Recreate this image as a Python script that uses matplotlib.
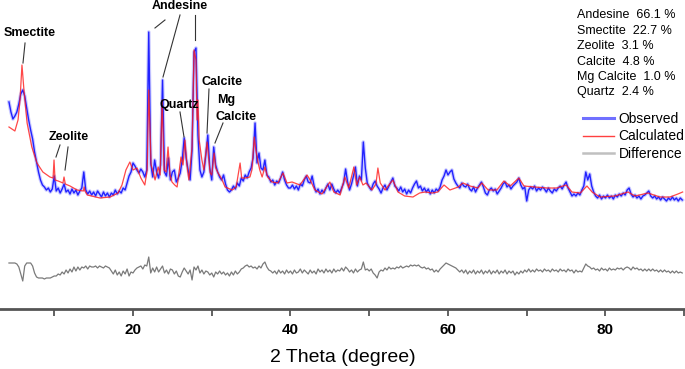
import numpy as np
import matplotlib
matplotlib.use("Agg")
import matplotlib.pyplot as plt
from matplotlib.lines import Line2D

plt.rcParams['font.family'] = ['Liberation Sans', 'DejaVu Sans']

# ---------------- data (intensity in arbitrary units) ----------------
STEP = 0.25
# observed scan, split in segments: (start 2theta, values every 0.25 deg)
obs_a_start = 4.25
obs_a = [208, 198, 191,
         194, 198, 206, 216,
         220, 214, 202, 190,
         180, 171, 158, 148,
         138, 130, 125, 123,
         120, 122, 118, 121,
         134, 119, 122, 117,
         121, 126, 118, 120,
         116, 121, 117, 120,
         115, 119, 122, 138,
         120, 116, 119, 115,
         118, 114, 119, 116,
         113, 118, 114, 117,
         113, 117, 115, 120,
         116, 119, 117, 122,
         120, 127, 134, 138]
obs_b_start = 20.0
obs_b = [147, 144, 140, 137,
         141, 138, 133, 140,
         278, 147, 133, 150,
         138, 132, 145, 230,
         138, 134, 152, 130,
         138, 140, 128, 132,
         137, 150, 172, 152,
         140, 130, 160, 258,
         262, 175, 140, 133,
         138, 155, 175, 142,
         130, 163, 145, 138,
         133, 130, 135, 126,
         120, 118, 120, 124,
         121, 127, 124, 132,
         129, 135, 132, 138,
         142, 152, 187, 147]
obs_c_start = 36.0
obs_c = [157, 142, 140, 150,
         135, 133, 128, 130,
         125, 129, 127, 132,
         138, 130, 125, 122,
         122, 125, 121, 124,
         120, 126, 124, 130,
         134, 128, 127, 134,
         124, 118, 121, 116,
         120, 117, 122, 126,
         120, 126, 121, 117,
         120, 117, 122, 127,
         141, 128, 120, 126,
         134, 143, 124, 134,
         130, 168, 142, 127,
         123, 120, 126, 129,
         124, 121, 117, 122]
obs_d_start = 52.0
obs_d = [125, 120, 124, 128,
         132, 124, 122, 119,
         123, 118, 121, 116,
         120, 117, 122, 126,
         129, 122, 124, 119,
         122, 118, 121, 116,
         120, 117, 121, 119,
         123, 130, 134, 140,
         135, 138, 140, 131,
         127, 124, 122, 127,
         124, 123, 126, 121,
         119, 123, 118, 122,
         125, 128, 123, 117,
         115, 120, 122, 119,
         121, 116, 119, 122,
         126, 128, 123, 125]
obs_e_start = 68.0
obs_e = [121, 124, 126, 128,
         132, 125, 121, 123,
         109, 120, 123, 121,
         124, 119, 122, 120,
         123, 121, 118, 122,
         119, 117, 121, 119,
         122, 124, 121, 125,
         128, 122, 118, 114,
         116, 114, 117, 115,
         120, 124, 138, 130,
         136, 124, 118, 114,
         112, 115, 111, 114,
         112, 115, 112, 114,
         111, 115, 113, 116,
         114, 117, 115, 120,
         122, 116, 113, 115,
         112, 114, 111, 114,
         115, 117, 119, 114,
         112, 114, 111, 113,
         110, 113, 111, 109,
         112, 110, 113, 110,
         112, 109, 112, 110]

# difference curve (observed - calculated), same step scan segments
diff_a = [5, 5, 5,
          5, 4, 1, -6,
          -13, 2, 5, 5,
          5, 2, -5, -9,
          -10, -10, -10, -11,
          -10, -10, -10, -9,
          -8, -8, -6, -7,
          -4, -6, -2, -5,
          -1, -4, 1, -3,
          1, -2, 1, 0,
          2, -1, 2, 1,
          1, 2, 0, 2,
          1, 0, 2, 1,
          0, -3, -6, -2,
          -7, -4, -8, -3,
          -6, -1, -8, -4]
diff_b = [-5, -2, 0, 1,
          2, -1, 3, 2,
          11, -5, 0, -4,
          1, -4, -1, 2,
          -5, -2, -6, -1,
          -2, -6, -3, -8,
          -9, -4, 0, -3,
          -6, -2, -12, 1,
          -2, 2, -5, -2,
          -6, -3, -4, -7,
          -5, -9, -4, -6,
          -3, -6, -4, -7,
          -5, -8, -4, -7,
          -3, -6, -4, -1,
          0, 2, 3, 1,
          2, 0, 1, -1]
diff_c = [2, 0, 4, 6,
          1, -2, -3, -5,
          -3, -6, -2, -5,
          -3, -6, -2, -5,
          -3, -6, -2, -5,
          -4, -1, -5, -2,
          -4, -6, -2, -5,
          -3, -6, -1, -4,
          -2, -5, -1, -4,
          -2, -5, -1, -4,
          -2, -3, 0, -3,
          1, -1, -4, -2,
          -5, -1, -4, -2,
          -1, 6, -2, -1,
          -3, -1, -5, -7,
          -10, -4, -2, -3]
diff_d = [0, -2, 1, -1,
          0, -1, 1, 0,
          2, 0, 1, 2,
          1, 3, 2, 3,
          2, 3, 1, 0,
          1, -1, 0, -2,
          -1, -4, -2, -4,
          -1, 1, 3, 5,
          4, 3, 2, 1,
          0, -2, -4, -2,
          -5, -2, -6, -3,
          -5, -2, -6, -3,
          -5, -2, -6, -3,
          -5, -2, -6, -3,
          -5, -2, -6, -3,
          -5, -2, -6, -3]
diff_e = [-5, -3, -7, -4,
          -6, -3, -5, -2,
          -4, -1, -4, -2,
          -4, -1, -3, -2,
          -4, -1, -3, -2,
          -4, -1, -3, -2,
          -4, -1, -3, -2,
          -4, -1, -3, -2,
          -5, -2, -4, -3,
          -4, 0, 4, 2,
          1, -1, 0, -2,
          -1, -3, 0, -2,
          -1, -3, 0, -2,
          -1, -2, 0, -1,
          0, -2, 0, 1,
          0, -2, 1, -1,
          0, -2, -1, -3,
          -1, -3, -1, -3,
          -1, -3, -2, -4,
          -2, -4, -2, -4,
          -3, -5, -3, -5,
          -3, -5, -4, -5]

# calculated pattern (Rietveld fit)
calc_two_theta = [4.25, 5.0, 5.4, 5.65, 5.9, 6.15, 6.55, 7.15, 7.8, 8.55, 9.45, 9.85, 9.97, 10.1,
                  10.5, 11.1, 11.24, 11.4, 12.0, 12.9, 13.7, 13.8, 13.9, 14.2, 15.8, 17.1, 18.1,
                  18.6, 19.1, 19.6, 20.0, 20.5, 21.0, 21.5, 21.8, 22.0, 22.3, 22.5, 22.8, 23.2,
                  23.45, 23.7, 23.95, 24.2, 24.45, 24.7, 24.95, 25.3, 25.6, 26.1, 26.35, 26.6,
                  26.85, 27.1, 27.35, 27.5, 27.75, 28.0, 28.13, 28.25, 28.4, 28.75, 29.0, 29.4,
                  29.8, 30.0, 30.3, 30.5, 30.8, 31.2, 31.7, 32.6, 33.1, 33.6, 33.8, 34.2, 34.85,
                  35.1, 35.4, 35.6, 35.9, 36.1, 36.4, 36.75, 37.1, 37.65, 38.4, 39.05, 39.55,
                  40.2, 41.2, 42.1, 42.5, 43.1, 44.0, 45.0, 45.5, 46.3, 46.9, 47.4, 48.05, 48.4,
                  48.8, 49.2, 49.6, 50.35, 50.85, 51.1, 51.4, 52.0, 53.0, 53.65, 54.5, 55.55,
                  56.4, 57.1, 58.0, 58.7, 59.5, 60.25, 61.3, 61.9, 62.8, 63.8, 64.3, 65.1, 66.2,
                  67.1, 67.9, 69.0, 69.65, 71.0, 72.6, 73.8, 75.0, 75.75, 76.8, 77.65, 78.3,
                  79.3, 81.2, 82.85, 83.75, 85.4, 86.9, 88.2, 89.2, 89.8]
calc_intensity = [183, 179, 190, 210, 245, 220, 187, 163, 147, 138, 133, 132, 150, 130,
                  129, 127, 133, 126, 124, 120, 119, 123, 119, 115, 112, 113, 117,
                  125, 140, 148, 140, 142, 132, 125, 140, 220, 145, 140, 130, 143,
                  135, 210, 140, 138, 163, 135, 128, 125, 123, 153, 145, 170,
                  145, 130, 150, 163, 260, 250, 190, 210, 170, 150, 140, 168,
                  137, 135, 157, 142, 137, 132, 123, 120, 123, 147, 132, 132, 133,
                  140, 173, 160, 147, 140, 133, 143, 133, 128, 127, 137, 127,
                  128, 125, 135, 130, 120, 116, 128, 118, 115, 133, 122, 143, 125,
                  133, 125, 127, 120, 126, 142, 127, 120, 130, 118, 114, 113,
                  117, 118, 117, 118, 125, 120, 123, 127, 124, 122, 127, 120, 120,
                  129, 124, 132, 124, 123, 122, 122, 125, 118, 117, 124, 118,
                  113, 114, 118, 114, 117, 113, 113, 116, 118]
assert len(calc_two_theta) == len(calc_intensity)

mineral_names = ["Andesine", "Smectite", "Zeolite", "Calcite", "Mg Calcite", "Quartz"]
mineral_pct = [66.1, 22.7, 3.1, 4.8, 1.0, 2.4]

DIFF_OFFSET = 42


def seg_x(start, vals):
    return start + STEP * np.arange(len(vals))


obs_segments = [(obs_a_start, obs_a), (obs_b_start, obs_b), (obs_c_start, obs_c),
                (obs_d_start, obs_d), (obs_e_start, obs_e)]
diff_values = [diff_a, diff_b, diff_c, diff_d, diff_e]

obs_x = np.concatenate([seg_x(s, v) for s, v in obs_segments])
obs_y = np.concatenate([np.asarray(v, float) for _, v in obs_segments])
diff_x = np.concatenate([seg_x(s, d) for (s, _), d in zip(obs_segments, diff_values)])
diff_y = np.concatenate([np.asarray(d, float) for d in diff_values])

# ---------------- figure ----------------
W, H = 685, 369
fig = plt.figure(figsize=(W / 100, H / 100), dpi=100)
ax_bottom_px = 309
ax = fig.add_axes([0, 1 - ax_bottom_px / H, 1, ax_bottom_px / H])
ax.set_xlim(3.11, 90.1)
ax.set_ylim(1, 310)

# observed: soft halo + core line
ax.plot(obs_x, obs_y, color='#6a6aff', lw=2.6, alpha=0.35, zorder=2)
ax.plot(obs_x, obs_y, color='#1010ff', lw=1.0, alpha=0.9, zorder=2)
ax.plot(calc_two_theta, calc_intensity, color='#ff1a1a', lw=0.9, alpha=0.8, zorder=3)
ax.plot(diff_x, DIFF_OFFSET + diff_y, color='#7a7a7a', lw=0.9, zorder=2)

for s in ['top', 'left', 'right']:
    ax.spines[s].set_visible(False)
ax.spines['bottom'].set_color('#555555')
ax.spines['bottom'].set_linewidth(2)
ax.set_yticks([])
ax.set_xticks([20, 40, 60, 80])
ax.set_xticks([10, 30, 50, 70, 90], minor=True)
ax.tick_params(axis='x', which='both', direction='out', length=5, width=1.3,
               color='#555555', pad=5)
for lab in ax.get_xticklabels():
    lab.set_fontweight('bold')
    lab.set_fontsize(11)
fig.text(343 / W, 1 - 358 / H, '2 Theta (degree)', fontsize=14, ha='center', va='center')

# ---------------- peak labels ----------------
lab_kw = dict(fontsize=9, fontweight='bold', color='black', va='center')
ln_kw = dict(color='#333333', lw=0.8)
ax.text(3.62, 277, 'Smectite', ha='left', **lab_kw)
ax.plot([6.29, 6.03], [267, 247], **ln_kw)
ax.text(9.33, 173, 'Zeolite', ha='left', **lab_kw)
ax.plot([10.73, 10.22], [165, 153], **ln_kw)
ax.plot([11.75, 11.37], [163, 140], **ln_kw)
ax.text(25.97, 304, 'Andesine', ha='center', **lab_kw)
ax.plot([24.06, 22.79], [290, 282], **ln_kw)
ax.plot([25.97, 23.81], [295, 233], **ln_kw)
ax.plot([27.87, 27.87], [295, 270], **ln_kw)
ax.text(25.84, 205, 'Quartz', ha='center', **lab_kw)
ax.plot([25.97, 26.48], [198, 173], **ln_kw)
ax.text(28.76, 228, 'Calcite', ha='left', **lab_kw)
ax.plot([29.65, 29.40], [221, 177], **ln_kw)
ax.text(30.67, 210, 'Mg', ha='left', **lab_kw)
ax.text(30.54, 193, 'Calcite', ha='left', **lab_kw)
ax.plot([31.43, 30.41], [187, 167], **ln_kw)

# ---------------- composition block ----------------
row_y = [15, 30.7, 46, 61.7, 76.7, 92.3]
for name, pct, py in zip(mineral_names, mineral_pct, row_y):
    fig.text(577 / W, 1 - py / H, f"{name}  {pct:.1f} %", fontsize=9, ha='left', va='center')

# ---------------- legend ----------------
handles = [Line2D([], [], color='#7070ff', lw=2.2),
           Line2D([], [], color='#ff4040', lw=1.0),
           Line2D([], [], color='#c0c0c0', lw=1.8)]
leg = ax.legend(handles, ['Observed', 'Calculated', 'Difference'], loc='upper left',
                bbox_to_anchor=(583 / W, 1 - 112 / H), bbox_transform=fig.transFigure,
                frameon=False, fontsize=10, handlelength=2.2, handletextpad=0.35,
                labelspacing=0.25, borderpad=0, borderaxespad=0)

fig.savefig('out.png', dpi=100, facecolor='white')
